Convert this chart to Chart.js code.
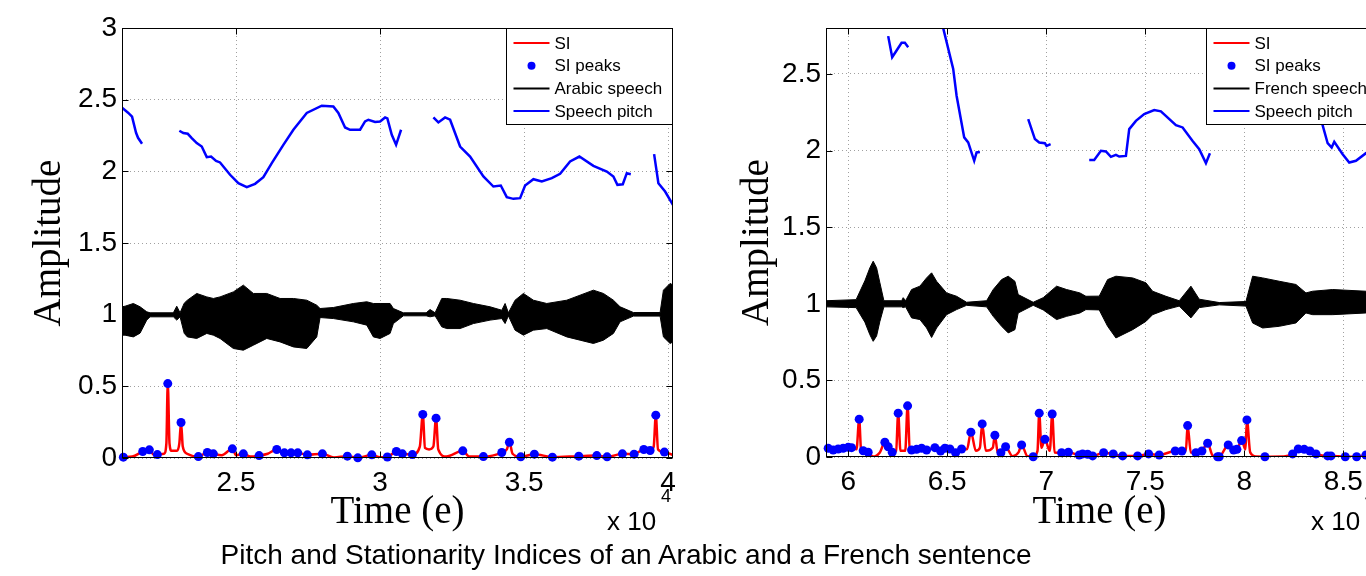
<!DOCTYPE html>
<html>
<head>
<meta charset="utf-8">
<script src="https://cdn.jsdelivr.net/npm/chart.js@4.4.1/dist/chart.umd.min.js"></script>
<style>
  html, body { margin: 0; padding: 0; background: #fff; }
  body { width: 1366px; height: 576px; position: relative; overflow: hidden; font-family: 'Liberation Sans', Arial, sans-serif; color: #000; }
  canvas { position: absolute; top: 0; }
  #arabic { left: 0; }
  #french { left: 700px; }
  .exp { position: absolute; font-size: 26px; line-height: 26px; white-space: nowrap; }
  .sup { position: absolute; font-size: 18px; line-height: 18px; }
  #title { position: absolute; left: 0; width: 1252px; top: 538px; text-align: center; font-size: 28px; line-height: 34px; white-space: nowrap; }
</style>
</head>
<body>
<canvas id="arabic" width="690" height="540"></canvas>
<canvas id="french" width="690" height="540"></canvas>
<div class="exp" style="left:607px;top:508px">x 10</div>
<div class="sup" style="left:661px;top:487px">4</div>
<div class="exp" style="left:1311px;top:508px">x 10</div>
<div class="sup" style="left:1365px;top:487px">4</div>
<div id="title">Pitch and Stationarity Indices of an Arabic and a French sentence</div>
<script>
// ---- data (x in samples, y in amplitude) ----
const arabicLegend = ['SI', 'SI peaks', 'Arabic speech', 'Speech pitch'];
const frenchLegend = ['SI', 'SI peaks', 'French speech', 'Speech pitch'];

const arabicRange = [21040, 40170, 0, 3];
const frenchRange = [58880, 86500, 0, 2.8];

// tick positions (labels shown as value / 1e4)
const arabicXTicks = [25000, 30000, 35000, 40000];
const frenchXTicks = [60000, 65000, 70000, 75000, 80000, 85000];
const arabicYTicks = [0, 0.5, 1, 1.5, 2, 2.5, 3];
const frenchYTicks = [0, 0.5, 1, 1.5, 2, 2.5];

// speech pitch (null = gap between voiced parts)
const arabicPitch = [
    [21042, 2.444], [21250, 2.409], [21389, 2.381], [21528, 2.269], [21597, 2.234], [21736, 2.192], [21900, null],
    [23031, 2.283], [23170, 2.267], [23323, 2.262], [23462, 2.232], [23635, 2.197], [23809, 2.173], [23983, 2.099],
    [24132, 2.103], [24306, 2.073], [24444, 2.062], [24792, 1.976], [25080, 1.917], [25372, 1.890], [25660, 1.913],
    [25948, 1.959], [26240, 2.057], [26642, 2.185], [26990, 2.290], [27455, 2.407], [27976, 2.458], [28378, 2.453],
    [28552, 2.407], [28785, 2.306], [28958, 2.290], [29306, 2.290], [29479, 2.348], [29594, 2.360], [29826, 2.344],
    [30000, 2.348], [30174, 2.376], [30253, 2.369], [30406, 2.255], [30556, 2.185], [30729, 2.290], [31000, null],
    [31851, 2.376], [32024, 2.341], [32257, 2.376], [32431, 2.360], [32778, 2.173], [33125, 2.103], [33587, 1.964],
    [33934, 1.894], [34191, 1.901], [34399, 1.820], [34628, 1.808], [34861, 1.813], [35035, 1.901], [35323, 1.945],
    [35615, 1.929], [35962, 1.952], [36250, 1.983], [36597, 2.069], [36920, 2.103], [37406, 2.038], [37872, 1.999],
    [38101, 1.964], [38240, 1.906], [38427, 1.910], [38566, 1.987], [38705, 1.980], [39000, null],
    [39514, 2.120], [39663, 1.917], [39896, 1.859], [40184, 1.761]
];

const frenchPitch = [
    [62020, 2.747], [62222, 2.609], [62444, 2.653], [62697, 2.703], [62863, 2.703], [63030, 2.675], [63500, null],
    [64631, 2.893], [64798, 2.799], [65303, 2.533], [65474, 2.358], [65858, 2.086], [66060, 2.053], [66363, 1.933],
    [66484, 1.988], [66651, 1.991], [67000, null],
    [69090, 2.205], [69428, 2.075], [69646, 2.053], [69933, 2.048], [70019, 2.031], [70221, 2.042], [71000, null],
    [72171, 1.939], [72423, 1.939], [72761, 1.998], [73014, 1.994], [73266, 1.959], [73519, 1.972], [73686, 1.961],
    [74024, 1.965], [74191, 2.140], [74529, 2.194], [74948, 2.238], [75453, 2.264], [75791, 2.256], [76549, 2.166],
    [76887, 2.151], [77392, 2.063], [77726, 2.009], [78064, 1.918], [78266, 1.983], [79000, null],
    [83720, 2.304], [83871, 2.205], [84210, 2.048], [84412, 2.020], [84543, 2.057], [84967, 1.976], [85300, 1.922],
    [85639, 1.933], [86144, 1.983], [86600, 2.009]
];

// speech waveform envelope: [x, upper, lower]
const arabicSpeech = [
    [21040, 1.055, 0.857], [21146, 1.059, 0.857], [21434, 1.078, 0.845], [21667, 1.055, 0.871], [21899, 1.020, 0.962],
    [22014, 1.013, 0.985], [22823, 1.013, 0.985], [22941, 1.059, 0.962], [23056, 1.013, 0.985], [23200, 1.080, 0.870],
    [23309, 1.101, 0.845], [23635, 1.148, 0.834], [23983, 1.124, 0.869], [24212, 1.113, 0.857], [24444, 1.124, 0.834],
    [24906, 1.159, 0.764], [25253, 1.206, 0.752], [25601, 1.148, 0.787], [26066, 1.148, 0.834], [26528, 1.113, 0.810],
    [26990, 1.113, 0.775], [27455, 1.101, 0.764], [27802, 1.066, 0.845], [27917, 1.043, 0.980], [28378, 1.050, 0.973],
    [29073, 1.078, 0.950], [29538, 1.090, 0.927], [29767, 1.078, 0.845], [30000, 1.078, 0.834], [30347, 1.078, 0.869],
    [30462, 1.043, 0.938], [30809, 1.013, 0.992], [31600, 1.013, 0.992], [31736, 1.036, 0.985], [31910, 1.013, 0.992],
    [32142, 1.113, 0.915], [32316, 1.113, 0.903], [32778, 1.101, 0.903], [33240, 1.078, 0.938], [33819, 1.055, 0.962],
    [34226, 1.031, 0.973], [34340, 1.078, 0.938], [34455, 1.013, 0.992], [34687, 1.101, 0.892], [34976, 1.148, 0.857],
    [35323, 1.101, 0.892], [35788, 1.078, 0.903], [36482, 1.101, 0.845], [36944, 1.136, 0.822], [37406, 1.171, 0.799],
    [37754, 1.148, 0.822], [38101, 1.101, 0.869], [38333, 1.055, 0.950], [38796, 1.015, 0.990], [39722, 1.015, 0.990],
    [39837, 1.171, 0.845], [40069, 1.218, 0.799], [40174, 1.206, 0.810]
];

const frenchSpeech = [
    [58880, 1.020, 0.980], [60400, 1.027, 0.975], [60843, 1.150, 0.880], [61096, 1.235, 0.798], [61263, 1.278, 0.755],
    [61434, 1.235, 0.790], [61601, 1.137, 0.885], [61803, 1.020, 0.980], [62700, 1.020, 0.980], [62778, 1.040, 0.975],
    [62900, 1.020, 0.980], [63202, 1.093, 0.908], [63621, 1.115, 0.897], [63959, 1.169, 0.842], [64212, 1.202, 0.780],
    [64464, 1.147, 0.842], [64969, 1.071, 0.929], [65474, 1.049, 0.962], [65979, 1.010, 0.990], [66989, 1.020, 0.980],
    [67323, 1.093, 0.918], [67747, 1.158, 0.853], [68080, 1.180, 0.810], [68418, 1.147, 0.831], [68585, 1.060, 0.940],
    [69343, 1.010, 0.990], [69848, 1.040, 0.960], [70524, 1.115, 0.897], [71029, 1.093, 0.918], [71701, 1.071, 0.940],
    [72004, 1.049, 0.962], [72676, 1.050, 0.960], [73100, 1.158, 0.853], [73519, 1.180, 0.777], [74362, 1.169, 0.831],
    [75034, 1.137, 0.885], [75372, 1.082, 0.929], [76044, 1.049, 0.962], [76716, 1.020, 0.985], [77306, 1.115, 0.908],
    [77726, 1.030, 0.975], [78736, 1.008, 0.993], [80084, 1.015, 0.985], [80422, 1.180, 0.875], [80927, 1.169, 0.842],
    [81766, 1.147, 0.853], [82609, 1.126, 0.875], [83114, 1.071, 0.940], [83452, 1.082, 0.929], [84462, 1.093, 0.929],
    [86144, 1.082, 0.940], [86500, 1.080, 0.940]
];

// stationarity index curve
const arabicSI = [
    [21040, 0.005], [21087, 0.006], [21400, 0.010], [21760, 0.045], [21990, 0.057], [22150, 0.020], [22267, 0.024],
    [22500, 0.030], [22580, 0.100], [22629, 0.519], [22690, 0.100], [22760, 0.050], [22950, 0.050], [23030, 0.100],
    [23090, 0.248], [23150, 0.080], [23300, 0.030], [23691, 0.010], [24003, 0.038], [24212, 0.029], [24500, 0.020],
    [24872, 0.064], [25000, 0.020], [25253, 0.029], [25500, 0.010], [25799, 0.017], [26100, 0.030], [26413, 0.059],
    [26677, 0.036], [26910, 0.036], [27142, 0.036], [27476, 0.022], [27997, 0.029], [28400, 0.004], [28865, 0.013],
    [29226, 0.001], [29712, 0.022], [30000, 0.005], [30253, 0.007], [30566, 0.045], [30774, 0.029], [31122, 0.024],
    [31380, 0.080], [31483, 0.304], [31560, 0.070], [31700, 0.060], [31850, 0.080], [31944, 0.278], [32020, 0.060],
    [32300, 0.010], [32872, 0.050], [33100, 0.010], [33587, 0.010], [34226, 0.038], [34400, 0.060], [34490, 0.110],
    [34600, 0.030], [34885, 0.008], [35357, 0.027], [35983, 0.006], [36899, 0.013], [37524, 0.017], [37882, 0.008],
    [38413, 0.029], [38819, 0.027], [39156, 0.059], [39375, 0.052], [39500, 0.080], [39573, 0.299], [39650, 0.060],
    [39871, 0.041], [40170, 0.020]
];

const frenchSI = [
    [58880, 0.050], [58990, 0.057], [59243, 0.046], [59495, 0.052], [59748, 0.057], [60000, 0.063], [60172, 0.061],
    [60420, 0.050], [60556, 0.247], [60650, 0.050], [60758, 0.041], [61010, 0.031], [61250, 0.003], [61600, 0.030],
    [61853, 0.096], [62020, 0.067], [62222, 0.031], [62420, 0.040], [62525, 0.286], [62640, 0.040], [62880, 0.040],
    [63000, 0.334], [63110, 0.050], [63202, 0.046], [63454, 0.050], [63707, 0.057], [63959, 0.046], [64378, 0.061],
    [64666, 0.039], [64883, 0.057], [65136, 0.052], [65424, 0.028], [65727, 0.052], [66000, 0.050], [66196, 0.162],
    [66450, 0.040], [66650, 0.060], [66767, 0.216], [66950, 0.040], [67300, 0.060], [67408, 0.142], [67550, 0.030],
    [67711, 0.028], [67949, 0.067], [68300, 0.005], [68600, 0.030], [68757, 0.079], [69050, 0.005], [69343, 0.002],
    [69560, 0.040], [69646, 0.286], [69760, 0.060], [69933, 0.116], [70180, 0.040], [70302, 0.281], [70420, 0.030],
    [70777, 0.028], [71120, 0.031], [71666, 0.013], [71837, 0.020], [72090, 0.018], [72342, 0.007], [72898, 0.028],
    [73383, 0.020], [73857, 0.007], [74615, 0.007], [75170, 0.020], [75706, 0.013], [76514, 0.039], [76852, 0.039],
    [77050, 0.040], [77140, 0.205], [77300, 0.030], [77559, 0.028], [77862, 0.039], [78150, 0.090], [78400, 0.010],
    [78655, 0.002], [78736, 0.002], [79190, 0.079], [79463, 0.046], [79629, 0.050], [79867, 0.107], [80060, 0.050],
    [80134, 0.242], [80300, 0.030], [80600, 0.003], [81043, 0.002], [82000, 0.003], [82442, 0.020], [82725, 0.052],
    [83028, 0.050], [83316, 0.039], [83619, 0.020], [84210, 0.007], [84377, 0.007], [85099, 0.002], [85674, 0.002],
    [86144, 0.013], [86500, 0.010]
];

// detected SI peaks
const arabicPeaks = [
    [21087, 0.006], [21760, 0.045], [21990, 0.057], [22267, 0.024], [22629, 0.519], [23090, 0.248], [23691, 0.010],
    [24003, 0.038], [24212, 0.029], [24872, 0.064], [25253, 0.029], [25799, 0.017], [26413, 0.059], [26677, 0.036],
    [26910, 0.036], [27142, 0.036], [27476, 0.022], [27997, 0.029], [28865, 0.013], [29226, 0.001], [29712, 0.022],
    [30253, 0.007], [30566, 0.045], [30774, 0.029], [31122, 0.024], [31483, 0.304], [31944, 0.278], [32872, 0.050],
    [33587, 0.010], [34226, 0.038], [34490, 0.110], [34885, 0.008], [35357, 0.027], [35983, 0.006], [36899, 0.013],
    [37524, 0.017], [37882, 0.008], [38413, 0.029], [38819, 0.027], [39156, 0.059], [39375, 0.052], [39573, 0.299],
    [39871, 0.041]
];

const frenchPeaks = [
    [58990, 0.057], [59243, 0.046], [59495, 0.052], [59748, 0.057], [60000, 0.063], [60172, 0.061], [60556, 0.247],
    [60758, 0.041], [61010, 0.031], [61853, 0.096], [62020, 0.067], [62222, 0.031], [62525, 0.286], [63000, 0.334],
    [63202, 0.046], [63454, 0.050], [63707, 0.057], [63959, 0.046], [64378, 0.061], [64666, 0.039], [64883, 0.057],
    [65136, 0.052], [65424, 0.028], [65727, 0.052], [66196, 0.162], [66767, 0.216], [67408, 0.142], [67711, 0.028],
    [67949, 0.067], [68757, 0.079], [69343, 0.002], [69646, 0.286], [69933, 0.116], [70302, 0.281], [70777, 0.028],
    [71120, 0.031], [71666, 0.013], [71837, 0.020], [72090, 0.018], [72342, 0.007], [72898, 0.028], [73383, 0.020],
    [73857, 0.007], [74615, 0.007], [75170, 0.020], [75706, 0.013], [76514, 0.039], [76852, 0.039], [77140, 0.205],
    [77559, 0.028], [77862, 0.039], [78150, 0.090], [78655, 0.002], [78736, 0.002], [79190, 0.079], [79463, 0.046],
    [79629, 0.050], [79867, 0.107], [80134, 0.242], [81043, 0.002], [82442, 0.020], [82725, 0.052], [83028, 0.050],
    [83316, 0.039], [83619, 0.020], [84210, 0.007], [84377, 0.007], [85099, 0.002], [85674, 0.002], [86144, 0.013]
];

const BLUE = 'rgb(0,0,255)';
const RED = 'rgb(255,0,0)';

Chart.defaults.font.family = "'Liberation Sans', Arial, sans-serif";
Chart.defaults.color = '#000';

function pts(arr, k) {
    return arr.map(p => ({x: p[0], y: p[k || 1]}));
}

// MATLAB-like frame, inward ticks and boxed legend
const matlabBox = {
    id: 'matlabBox',
    afterDraw(chart, args, opts) {
        const {ctx, chartArea: a} = chart;
        const xs = chart.scales.x, ys = chart.scales.y;
        const L = Math.round(a.left) + 0.5, R = Math.round(a.right) - 0.5;
        const T = Math.round(a.top) + 0.5, B = Math.round(a.bottom) - 0.5;
        ctx.save();
        ctx.strokeStyle = '#000';
        ctx.lineWidth = 1;
        ctx.beginPath();
        xs.ticks.forEach(t => {
            const px = Math.round(xs.getPixelForValue(t.value)) + 0.5;
            ctx.moveTo(px, B); ctx.lineTo(px, B - 6);
            ctx.moveTo(px, T); ctx.lineTo(px, T + 6);
        });
        ys.ticks.forEach(t => {
            const py = Math.round(ys.getPixelForValue(t.value)) + 0.5;
            ctx.moveTo(L, py); ctx.lineTo(L + 6, py);
            ctx.moveTo(R, py); ctx.lineTo(R - 6, py);
        });
        ctx.stroke();
        ctx.strokeRect(L, T, R - L, B - T);

        // legend
        const w = opts.width, h = 96;
        const bx = R - w, by = T;
        ctx.fillStyle = '#fff';
        ctx.fillRect(bx, by, w, h);
        ctx.strokeRect(bx, by, w, h);
        ctx.font = "17px 'Liberation Sans', Arial, sans-serif";
        ctx.textBaseline = 'middle';
        ctx.textAlign = 'left';
        const styles = [RED, 'dot', '#000', BLUE];
        opts.labels.forEach((lab, i) => {
            const cy = by + 14.5 + i * 22.7;
            if (styles[i] === 'dot') {
                ctx.fillStyle = BLUE;
                ctx.beginPath();
                ctx.arc(bx + 25, cy, 4, 0, Math.PI * 2);
                ctx.fill();
            } else {
                ctx.strokeStyle = styles[i];
                ctx.lineWidth = 2;
                ctx.beginPath();
                ctx.moveTo(bx + 7, cy); ctx.lineTo(bx + 43, cy);
                ctx.stroke();
            }
            ctx.fillStyle = '#000';
            ctx.fillText(lab, bx + 48, cy + 1);
        });
        ctx.restore();
    }
};

function makeChart(id, range, xTicks, yTicks, speech, pitch, si, peaks, legend, yWidth, yTitlePad, xHeight) {
    return new Chart(document.getElementById(id), {
        type: 'line',
        data: {
            datasets: [
                {
                    label: legend[1],
                    data: pts(peaks),
                    showLine: false,
                    pointRadius: 4.5,
                    pointBackgroundColor: BLUE,
                    pointBorderWidth: 0,
                    clip: false
                },
                {
                    label: legend[0],
                    data: pts(si),
                    borderColor: RED,
                    borderWidth: 2.5,
                    pointRadius: 0,
                    cubicInterpolationMode: 'monotone'
                },
                {
                    label: legend[3],
                    data: pts(pitch),
                    borderColor: BLUE,
                    borderWidth: 2.5,
                    pointRadius: 0,
                    spanGaps: false
                },
                {
                    label: legend[2],
                    data: pts(speech, 1),
                    borderColor: '#000',
                    backgroundColor: '#000',
                    borderWidth: 1,
                    pointRadius: 0,
                    fill: '+1'
                },
                {
                    label: legend[2] + ' (lower)',
                    data: pts(speech, 2),
                    borderColor: '#000',
                    borderWidth: 1,
                    pointRadius: 0,
                    fill: false
                }
            ]
        },
        options: {
            responsive: false,
            animation: false,
            devicePixelRatio: 1,
            layout: {
                padding: {left: 0, top: 28, right: 17, bottom: 0}
            },
            scales: {
                x: {
                    type: 'linear',
                    min: range[0],
                    max: range[1],
                    afterFit: s => { s.height = xHeight; },
                    afterBuildTicks: s => { s.ticks = xTicks.map(v => ({value: v})); },
                    ticks: {
                        maxRotation: 0,
                        autoSkip: false,
                        padding: 8,
                        font: {size: 28},
                        callback: v => String(v / 10000)
                    },
                    grid: {color: '#a0a0a0', drawTicks: false},
                    border: {display: false, dash: [1, 3]},
                    title: {
                        display: true,
                        text: 'Time (e)',
                        font: {family: "'Liberation Serif', 'Times New Roman', serif", size: 39, lineHeight: 1},
                        padding: {top: 0, bottom: 8}
                    }
                },
                y: {
                    type: 'linear',
                    min: range[2],
                    max: range[3],
                    afterFit: s => { s.width = yWidth; },
                    afterBuildTicks: s => { s.ticks = yTicks.map(v => ({value: v})); },
                    ticks: {
                        padding: 5,
                        font: {size: 28},
                        callback: v => String(v)
                    },
                    grid: {color: '#a0a0a0', drawTicks: false},
                    border: {display: false, dash: [1, 3]},
                    title: {
                        display: true,
                        text: 'Amplitude',
                        font: {family: "'Liberation Serif', 'Times New Roman', serif", size: 39, lineHeight: 1},
                        padding: {top: yTitlePad, bottom: 0}
                    }
                }
            },
            plugins: {
                legend: {display: false},
                tooltip: {enabled: false},
                matlabBox: {labels: legend, width: 166}
            }
        },
        plugins: [matlabBox]
    });
}

makeChart('arabic', arabicRange, arabicXTicks, arabicYTicks, arabicSpeech, arabicPitch, arabicSI, arabicPeaks, arabicLegend, 122, 30, 82);
makeChart('french', frenchRange, frenchXTicks, frenchYTicks, frenchSpeech, frenchPitch, frenchSI, frenchPeaks, frenchLegend, 126, 38, 83);
</script>
</body>
</html>
